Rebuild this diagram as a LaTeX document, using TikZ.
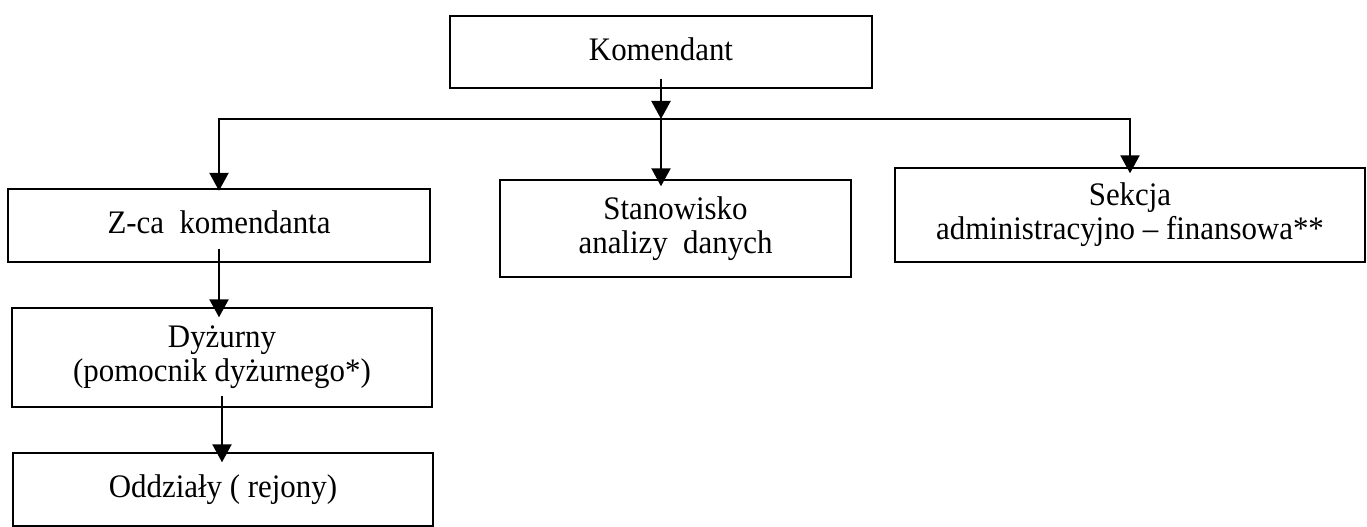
\documentclass[tikz,border=0pt]{standalone}
\usepackage{fontspec}
\setmainfont{Liberation Serif}[FakeStretch=0.94]
\usetikzlibrary{arrows.meta}

\begin{document}
\begin{tikzpicture}[
  box/.style={draw, line width=0.8pt, align=center, inner sep=0pt,
    font=\fontsize{18.7}{19.4}\selectfont},
  conn/.style={line width=1.3pt, -{Triangle[length=0.36cm,width=0.38cm]}}]
\useasboundingbox (0,0) rectangle (27.34,10.54);
\node[box, minimum width=8.44cm, minimum height=1.44cm, text depth=0.35em] (kom) at (13.22,9.50) {Komendant};
\node[box, minimum width=8.44cm, minimum height=1.46cm, text depth=0.35em] (zca) at (4.38,6.03) {Z-ca\ \ komendanta};
\node[box, minimum width=7.02cm, minimum height=1.94cm] (stan) at (13.51,5.97) {Stanowisko\\analizy\ \ danych};
\node[box, minimum width=9.40cm, minimum height=1.88cm] (sek) at (22.60,6.24) {Sekcja\\administracyjno -- finansowa**};
\node[box, minimum width=8.40cm, minimum height=1.98cm] (dyz) at (4.44,3.39) {Dyżurny\\(pomocnik dyżurnego*)};
\node[box, minimum width=8.40cm, minimum height=1.46cm] (odd) at (4.46,0.75) {Oddziały ( rejony)};
\coordinate (bus) at (13.22,8.16);
% od komendanta
\draw[conn] ([yshift=2mm]kom.south) -- (kom.south |- bus);
\draw[conn] (kom.south |- bus) -- ([yshift=-1.4mm]stan.north -| kom.south);
\draw[conn] (kom.south |- bus) -| ([yshift=-0.5mm]zca.north);
\draw[conn] (kom.south |- bus) -| ([yshift=-1.2mm]sek.north);
% w dol
\draw[conn] ([yshift=2.8mm]zca.south) -- ([yshift=-2mm]zca.south |- dyz.north);
\draw[conn] ([yshift=2.4mm]dyz.south) -- ([yshift=-2mm]dyz.south |- odd.north);
\end{tikzpicture}
\end{document}
